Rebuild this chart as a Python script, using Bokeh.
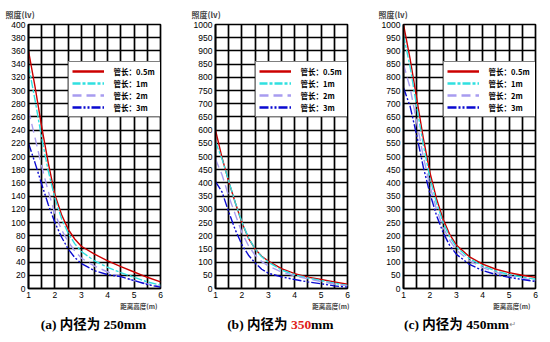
from bokeh.plotting import figure
from bokeh.models import FixedTicker, Legend, LegendItem, Range1d, Title
from bokeh.layouts import row, column
from bokeh.core.properties import value
from bokeh.embed import file_html
from bokeh.resources import INLINE

# ---------------- data ----------------
distance = [1, 1.25, 1.5, 1.75, 2, 2.25, 2.5, 2.75, 3, 3.5, 4, 4.5, 5, 5.5, 6]
x_tick_values = [1, 2, 3, 4, 5, 6]
x_grid_values = [1, 1.5, 2, 2.5, 3, 3.5, 4, 4.5, 5, 5.5, 6]
series_labels = ["管长：0.5m", "管长：1m", "管长：2m", "管长：3m"]

# (a) inner diameter 250 mm
a_05m = [360, 305, 245, 190, 142, 112, 90, 75, 64, 52, 42, 33, 25, 17, 10]
a_1m = [338, 285, 228, 178, 137, 106, 84, 68, 56, 42, 32, 24, 17, 10, 5]
a_2m = [270, 228, 185, 147, 114, 89, 71, 57, 46, 34, 25, 18, 12, 7, 3]
a_3m = [220, 190, 158, 127, 100, 78, 60, 47, 38, 27, 21, 18, 12, 6, 2]
a_y_ticks = list(range(0, 401, 20))

# (b) inner diameter 350 mm
b_05m = [600, 495, 405, 325, 250, 190, 150, 122, 104, 75, 56, 43, 34, 25, 16]
b_1m = [555, 490, 408, 325, 252, 192, 150, 120, 100, 70, 52, 40, 30, 20, 12]
b_2m = [490, 430, 350, 280, 212, 162, 126, 102, 86, 62, 48, 36, 26, 17, 10]
b_3m = [405, 365, 290, 222, 166, 126, 97, 73, 58, 44, 34, 25, 18, 10, 5]
b_y_ticks = list(range(0, 1001, 50))

# (c) inner diameter 450 mm
c_05m = [1000, 870, 720, 570, 440, 340, 262, 205, 165, 120, 92, 73, 60, 50, 42]
c_1m = [960, 840, 690, 545, 420, 325, 250, 196, 158, 113, 86, 66, 53, 43, 35]
c_2m = [850, 760, 630, 500, 390, 300, 232, 182, 146, 105, 79, 61, 48, 38, 30]
c_3m = [760, 690, 580, 460, 360, 277, 212, 163, 130, 91, 68, 53, 42, 34, 27]
c_y_ticks = list(range(0, 1001, 50))

y_title = "照度(lv)"
x_title = "距离高度(m)"
caption_a = "(a) 内径为 250mm"
caption_b = ["(b) 内径为", "350", "mm"]
caption_c = "(c) 内径为 450mm"

# ---------------- styles ----------------
colors = ["#cc0000", "#30e0e0", "#a89cf0", "#0a0ad0"]
dashes = ["solid", "8 2 3 2", "9 5", "9 2 2 2 2 2"]
CJK = "Noto Sans CJK SC"
FRAME_W, FRAME_H = 132, 264
GRID_W = 1.7


def make_panel(series, y_ticks, border_left, border_right, ytitle_dx, xtitle_dx):
    p = figure(frame_width=FRAME_W, frame_height=FRAME_H,
               x_range=Range1d(x_tick_values[0], x_tick_values[-1]),
               y_range=Range1d(y_ticks[0], y_ticks[-1]),
               output_backend="svg", toolbar_location=None,
               min_border_left=border_left, min_border_right=border_right,
               min_border_top=24, min_border_bottom=26,
               background_fill_color="white", border_fill_color="white")
    p.outline_line_color = "black"
    p.outline_line_width = GRID_W

    p.xaxis.ticker = FixedTicker(ticks=x_tick_values)
    p.yaxis.ticker = FixedTicker(ticks=y_ticks)
    p.xgrid.ticker = FixedTicker(ticks=x_grid_values)
    p.ygrid.ticker = FixedTicker(ticks=y_ticks)
    for g in (p.xgrid, p.ygrid):
        g.grid_line_color = "black"
        g.grid_line_width = GRID_W
        g.grid_line_alpha = 1
    for ax in (p.xaxis, p.yaxis):
        ax.axis_line_color = "black"
        ax.axis_line_width = GRID_W
        ax.major_tick_line_color = None
        ax.minor_tick_line_color = None
        ax.major_tick_out = 0
        ax.major_tick_in = 0
        ax.major_label_text_font = "Liberation Sans"
        ax.major_label_text_font_size = "8.5px"
        ax.major_label_text_color = "black"
        ax.major_label_standoff = 3

    items = []
    for vals, col, dash, lab in zip(series, colors, dashes, series_labels):
        p.line(distance, vals, line_color=col, line_width=1.4, line_dash=dash)
        # hidden twin with thicker stroke, used only for the legend swatch
        r = p.line(distance, vals, line_color=col, line_width=2.6, line_dash=dash, visible=False)
        items.append(LegendItem(label=lab, renderers=[r]))
    leg = Legend(items=items, location=(39.6, 171),
                 border_line_color="black", border_line_width=GRID_W,
                 background_fill_color="white", background_fill_alpha=1,
                 padding=3, spacing=0, margin=0,
                 glyph_height=12, glyph_width=32, label_height=12,
                 label_width=44, label_standoff=10,
                 label_text_font=CJK, label_text_font_size="7.5px",
                 label_text_font_style="bold", label_text_color="black")
    p.add_layout(leg)

    p.add_layout(Title(text=y_title, align="left", offset=ytitle_dx, standoff=10,
                       text_font=CJK, text_font_size="8px", text_font_style="bold"), "above")
    p.add_layout(Title(text=x_title, align="right", offset=xtitle_dx, standoff=0,
                       vertical_align="top",
                       text_font=CJK, text_font_size="6.5px", text_font_style="bold"), "below")
    return p


pa = make_panel([a_05m, a_1m, a_2m, a_3m], a_y_ticks, 28, 25, -23, 3)
pb = make_panel([b_05m, b_1m, b_2m, b_3m], b_y_ticks, 30, 25, -24, -2)
pc = make_panel([c_05m, c_1m, c_2m, c_3m], c_y_ticks, 31, 15, -25, 5)

# caption strip (starts right under the panels, 314 px from the top)
cap = figure(width=550, height=28, x_range=Range1d(0, 550), y_range=Range1d(0, 28),
             output_backend="svg", toolbar_location=None, min_border=0,
             background_fill_color="white", border_fill_color="white")
cap.outline_line_color = None
cap.axis.visible = False
cap.grid.visible = False
cap_font = value("Liberation Serif, Noto Sans CJK SC")
common = dict(text_font=cap_font, text_font_size="13.5px", text_font_style="bold",
              text_baseline="middle")
cy = 18
cap.text(x=[93, 456], y=[cy, cy], text=[caption_a, caption_c], text_align="center",
         text_color="black", **common)
cap.text(x=[287], y=[cy], text=[caption_b[0]], text_align="right", text_color="black", **common)
cap.text(x=[300.5], y=[cy], text=[caption_b[1]], text_align="center", text_color="#e0201a", **common)
cap.text(x=[310.6], y=[cy], text=[caption_b[2]], text_align="left", text_color="black", **common)
cap.text(x=[509], y=[cy], text=["↵"], text_align="left", text_color="#888888",
         text_font=value("DejaVu Sans"), text_font_size="8px", text_baseline="middle")

layout = column(row(pa, pb, pc, spacing=0), cap, spacing=0)
open("out.html", "w").write(file_html(layout, INLINE))
